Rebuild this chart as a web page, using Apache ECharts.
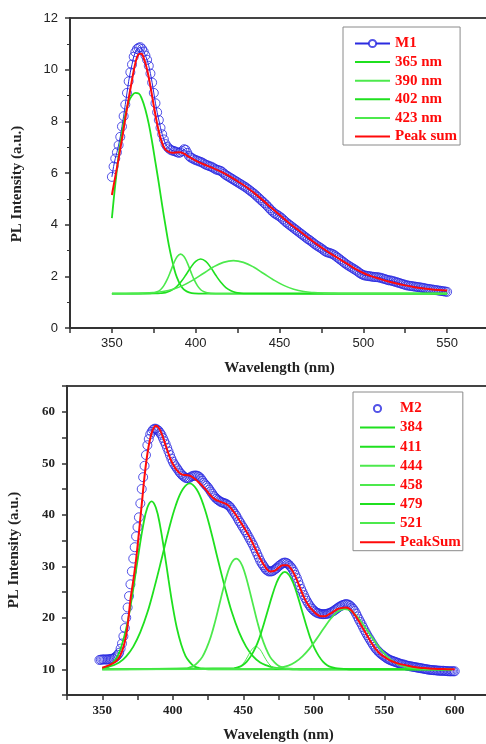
<!DOCTYPE html>
<html>
<head>
<meta charset="utf-8">
<script src="https://cdn.jsdelivr.net/npm/echarts@6/dist/echarts.min.js"></script>
<style>
  html, body { margin: 0; background: #fff; }
  #main { width: 486px; height: 744px; }
</style>
</head>
<body>
<div id="main"></div>
<script>
// ===== 上圖 M1 =====
// 量測資料 (350 ~ 550 nm, 每 1 nm 一點)
const m1Start = 350;
const m1Step = 1;
const m1Values = [
  5.85, 6.25, 6.56, 6.8, 7.08, 7.4, 7.8, 8.2, 8.65, 9.1,
  9.55, 9.9, 10.2, 10.5, 10.68, 10.8, 10.85, 10.87, 10.8, 10.7,
  10.55, 10.38, 10.15, 9.85, 9.5, 9.1, 8.7, 8.35, 8.05, 7.75,
  7.5, 7.3, 7.12, 7.02, 6.95, 6.9, 6.87, 6.85, 6.83, 6.8,
  6.78, 6.8, 6.85, 6.92, 6.9, 6.78, 6.66, 6.6, 6.57, 6.53,
  6.5, 6.48, 6.45, 6.43, 6.4, 6.36, 6.32, 6.3, 6.27, 6.25,
  6.22, 6.18, 6.14, 6.12, 6.1, 6.08, 6.03, 5.97, 5.92, 5.88,
  5.84, 5.8, 5.76, 5.72, 5.68, 5.64, 5.6, 5.56, 5.52, 5.48,
  5.44, 5.39, 5.34, 5.29, 5.24, 5.19, 5.13, 5.07, 5.01, 4.95,
  4.89, 4.83, 4.77, 4.7, 4.63, 4.56, 4.5, 4.44, 4.4, 4.36,
  4.32, 4.27, 4.21, 4.15, 4.09, 4.04, 3.99, 3.94, 3.89, 3.84,
  3.79, 3.74, 3.69, 3.64, 3.59, 3.54, 3.49, 3.44, 3.4, 3.35,
  3.3, 3.25, 3.2, 3.16, 3.12, 3.08, 3.03, 2.98, 2.94, 2.92,
  2.9, 2.88, 2.85, 2.81, 2.76, 2.71, 2.66, 2.61, 2.56, 2.51,
  2.46, 2.42, 2.38, 2.34, 2.3, 2.26, 2.22, 2.17, 2.12, 2.08,
  2.05, 2.03, 2.02, 2.01, 2.0, 1.99, 1.98, 1.97, 1.97, 1.96,
  1.95, 1.93, 1.91, 1.89, 1.87, 1.85, 1.84, 1.83, 1.81, 1.79,
  1.77, 1.75, 1.73, 1.71, 1.69, 1.67, 1.65, 1.64, 1.63, 1.62,
  1.61, 1.6, 1.59, 1.58, 1.57, 1.56, 1.55, 1.53, 1.52, 1.51,
  1.5, 1.49, 1.48, 1.47, 1.46, 1.45, 1.44, 1.43, 1.42, 1.41,
  1.4,
];

// 擬合峰 [wavelength, intensity]
const m1Peak365 = [[350, 4.25], [352, 5.55], [354, 6.65], [356, 7.55], [358, 8.25], [360, 8.75], [362, 9.0], [364, 9.1], [366, 9.08], [368, 8.85], [370, 8.45], [372, 7.9], [374, 7.2], [376, 6.4], [378, 5.6], [380, 4.75], [382, 3.95], [384, 3.2], [386, 2.6], [388, 2.1], [390, 1.78], [392, 1.56], [394, 1.44], [396, 1.38], [399, 1.34], [405, 1.33], [550, 1.33]];
const m1Peak390 = [[350, 1.33], [373, 1.34], [375, 1.36], [377, 1.4], [379, 1.48], [381, 1.64], [383, 1.88], [385, 2.19], [387, 2.52], [389, 2.77], [391, 2.86], [393, 2.77], [395, 2.52], [397, 2.19], [399, 1.88], [401, 1.64], [403, 1.48], [405, 1.4], [407, 1.36], [409, 1.34], [415, 1.33], [550, 1.33]];
const m1Peak402 = [[350, 1.33], [376, 1.335], [379, 1.345], [382, 1.37], [385, 1.44], [388, 1.56], [391, 1.77], [394, 2.04], [397, 2.34], [400, 2.58], [403, 2.67], [406, 2.58], [409, 2.34], [412, 2.04], [415, 1.77], [418, 1.56], [421, 1.44], [424, 1.37], [427, 1.345], [430, 1.335], [550, 1.33]];
const m1Peak423 = [[350, 1.33], [362.5, 1.34], [368.5, 1.35], [374.5, 1.37], [380.5, 1.41], [386.5, 1.5], [392.5, 1.65], [398.5, 1.86], [404.5, 2.11], [410.5, 2.36], [416.5, 2.54], [422.5, 2.61], [428.5, 2.54], [434.5, 2.36], [440.5, 2.11], [446.5, 1.86], [452.5, 1.65], [458.5, 1.5], [464.5, 1.41], [470.5, 1.37], [476.5, 1.35], [482.5, 1.34], [490, 1.33], [550, 1.33]];
const m1PeakSum = [[350, 5.15], [353, 6.2], [356, 7.3], [359, 8.5], [362, 9.6], [364, 10.25], [366, 10.6], [367.5, 10.62], [369, 10.45], [371, 10.0], [373, 9.35], [375, 8.6], [377, 7.9], [379, 7.35], [381, 7.0], [383, 6.85], [386, 6.78], [390, 6.8], [393, 6.75], [396, 6.62], [400, 6.48], [405, 6.33], [410, 6.2], [415, 6.05], [420, 5.88], [425, 5.68], [430, 5.47], [435, 5.22], [440, 4.95], [445, 4.66], [450, 4.38], [455, 4.1], [460, 3.85], [465, 3.6], [470, 3.35], [475, 3.12], [480, 2.9], [485, 2.7], [490, 2.5], [495, 2.3], [500, 2.13], [505, 2.0], [510, 1.9], [515, 1.8], [520, 1.72], [525, 1.65], [530, 1.59], [535, 1.54], [540, 1.5], [545, 1.47], [550, 1.45]];

// ===== 下圖 M2 =====
// 量測資料 (348 ~ 600 nm, 每 1 nm 一點)
const m2Start = 348;
const m2Step = 1;
const m2Values = [
  11.8, 11.85, 11.9, 11.9, 11.9, 11.9, 11.9, 11.95, 12.0, 12.05,
  12.1, 12.3, 12.5, 12.8, 13.2, 14.0, 15.0, 16.4, 18.0, 20.0,
  22.0, 24.2, 26.5, 29.0, 31.5, 33.7, 35.8, 37.6, 39.5, 42.2,
  45.0, 47.3, 49.5, 51.6, 53.5, 54.7, 55.6, 56.1, 56.5, 56.7,
  56.7, 56.5, 56.3, 55.9, 55.5, 54.9, 54.3, 53.7, 53.0, 52.3,
  51.6, 50.9, 50.3, 49.8, 49.4, 49.0, 48.6, 48.2, 47.9, 47.6,
  47.4, 47.2, 47.1, 47.1, 47.2, 47.4, 47.5, 47.6, 47.6, 47.6,
  47.5, 47.3, 47.0, 46.6, 46.2, 45.9, 45.6, 45.3, 44.9, 44.5,
  44.1, 43.7, 43.4, 43.1, 42.9, 42.7, 42.5, 42.4, 42.3, 42.2,
  42.1, 41.9, 41.7, 41.4, 41.0, 40.6, 40.2, 39.8, 39.3, 38.8,
  38.4, 37.9, 37.5, 37.0, 36.6, 36.1, 35.6, 35.1, 34.6, 34.1,
  33.5, 32.9, 32.3, 31.7, 31.1, 30.6, 30.2, 29.8, 29.4, 29.2,
  29.0, 29.0, 29.0, 29.1, 29.3, 29.5, 29.7, 30.0, 30.2, 30.4,
  30.6, 30.7, 30.7, 30.6, 30.4, 30.1, 29.8, 29.4, 28.9, 28.3,
  27.7, 27.0, 26.3, 25.6, 25.0, 24.4, 23.8, 23.3, 22.8, 22.4,
  22.0, 21.7, 21.4, 21.2, 21.0, 20.9, 20.8, 20.75, 20.7, 20.7,
  20.7, 20.75, 20.8, 20.9, 21.0, 21.15, 21.3, 21.5, 21.7, 21.9,
  22.1, 22.25, 22.4, 22.5, 22.6, 22.65, 22.6, 22.5, 22.3, 22.0,
  21.7, 21.3, 20.8, 20.25, 19.7, 19.2, 18.7, 18.15, 17.6, 17.1,
  16.6, 16.15, 15.7, 15.25, 14.8, 14.4, 14.0, 13.7, 13.4, 13.15,
  12.9, 12.7, 12.5, 12.3, 12.1, 11.95, 11.8, 11.7, 11.6, 11.5,
  11.4, 11.3, 11.2, 11.1, 11.0, 10.95, 10.9, 10.8, 10.7, 10.65,
  10.6, 10.55, 10.5, 10.45, 10.4, 10.35, 10.3, 10.25, 10.2, 10.15,
  10.1, 10.05, 10.0, 9.95, 9.9, 9.87, 9.85, 9.82, 9.8, 9.77,
  9.75, 9.72, 9.7, 9.7, 9.7, 9.67, 9.65, 9.62, 9.6, 9.6,
  9.6, 9.6, 9.6,
];

const m2Peak384 = [[350, 10.1], [352, 10.3], [355, 10.6], [358, 11.4], [361, 12.6], [364, 14.8], [367, 17.9], [370, 22.2], [373, 27.4], [376, 32.9], [379, 37.9], [382, 41.4], [385, 42.6], [388, 41.4], [391, 37.9], [394, 32.9], [397, 27.4], [400, 22.2], [403, 17.9], [406, 14.8], [409, 12.6], [412, 11.4], [415, 10.6], [418, 10.3], [421, 10.1], [430, 10.0], [598, 10.0]];
const m2Peak411 = [[350, 10.2], [352, 10.3], [357, 10.7], [362, 11.3], [367, 12.5], [372, 14.4], [377, 17.2], [382, 21.0], [387, 25.9], [392, 31.3], [397, 36.9], [402, 41.7], [407, 44.9], [412, 46.1], [417, 44.9], [422, 41.7], [427, 36.9], [432, 31.3], [437, 25.9], [442, 21.0], [447, 17.2], [452, 14.4], [457, 12.5], [462, 11.3], [467, 10.7], [472, 10.3], [477, 10.15], [485, 10.0], [598, 10.0]];
const m2Peak444 = [[350, 10.0], [409, 10.15], [412, 10.35], [415, 10.7], [418, 11.4], [421, 12.4], [424, 14.1], [427, 16.3], [430, 19.2], [433, 22.5], [436, 25.8], [439, 28.8], [442, 30.8], [445, 31.5], [448, 30.8], [451, 28.8], [454, 25.8], [457, 22.5], [460, 19.2], [463, 16.3], [466, 14.1], [469, 12.4], [472, 11.4], [475, 10.7], [478, 10.35], [481, 10.15], [490, 10.0], [598, 10.0]];
const m2Peak458 = [[350, 10.0], [443, 10.06], [445, 10.17], [447, 10.4], [449, 10.8], [451, 11.5], [453, 12.4], [455, 13.4], [457, 14.1], [459, 14.4], [461, 14.1], [463, 13.4], [465, 12.4], [467, 11.5], [469, 10.8], [471, 10.4], [473, 10.17], [475, 10.06], [480, 10.0], [598, 10.0]];
const m2Peak479 = [[350, 10.0], [443.5, 10.2], [446.5, 10.4], [449.5, 10.8], [452.5, 11.5], [455.5, 12.6], [458.5, 14.1], [461.5, 16.1], [464.5, 18.7], [467.5, 21.5], [470.5, 24.3], [473.5, 26.7], [476.5, 28.3], [479.5, 28.9], [482.5, 28.3], [485.5, 26.7], [488.5, 24.3], [491.5, 21.5], [494.5, 18.7], [497.5, 16.1], [500.5, 14.1], [503.5, 12.6], [506.5, 11.5], [509.5, 10.8], [512.5, 10.4], [515.5, 10.2], [525, 10.0], [598, 10.0]];
const m2Peak521 = [[350, 10.0], [467, 10.06], [472, 10.15], [477, 10.35], [482, 10.7], [487, 11.4], [492, 12.5], [497, 14.0], [502, 15.9], [507, 17.9], [512, 19.8], [517, 21.2], [522, 21.7], [527, 21.2], [532, 19.8], [537, 17.9], [542, 15.9], [547, 14.0], [552, 12.5], [557, 11.4], [562, 10.7], [567, 10.35], [572, 10.15], [577, 10.06], [585, 10.0], [598, 10.0]];
const m2PeakSum = [[350, 10.3], [355, 10.8], [360, 11.6], [363, 12.8], [366, 15.3], [368, 18.5], [370, 23.5], [372, 27.2], [374, 31.3], [376, 36.5], [378, 42], [380, 47.5], [382, 51.8], [384, 54.8], [386, 56.6], [388, 57.3], [390, 56.9], [392, 55.8], [394, 54.3], [396, 52.6], [398, 51.1], [400, 49.9], [403, 48.6], [406, 47.9], [409, 47.7], [412, 47.6], [415, 47.1], [418, 46.4], [421, 45.6], [424, 44.7], [427, 43.7], [430, 43.0], [433, 42.6], [436, 42.3], [439, 41.9], [442, 41.0], [445, 39.9], [448, 38.6], [451, 37.3], [454, 35.9], [457, 34.3], [460, 32.6], [463, 31.0], [466, 29.7], [469, 29.0], [472, 29.1], [475, 29.7], [478, 30.2], [481, 30.2], [484, 29.5], [487, 28.0], [490, 26.0], [493, 24.0], [496, 22.5], [499, 21.5], [502, 20.7], [505, 20.3], [508, 20.3], [511, 20.7], [514, 21.2], [517, 21.7], [520, 21.9], [523, 22.0], [526, 21.6], [529, 20.6], [532, 19.3], [535, 17.9], [538, 16.5], [541, 15.1], [544, 13.9], [547, 13.0], [550, 12.4], [555, 11.6], [560, 11.1], [565, 10.8], [570, 10.5], [575, 10.3], [580, 10.2], [585, 10.1], [590, 10.05], [595, 10.0], [600, 10.0]];

// 圖例文字
const m1Legend = ["M1", "365 nm", "390 nm", "402 nm", "423 nm", "Peak sum"];
const m2Legend = ["M2", "384", "411", "444", "458", "479", "521", "PeakSum"];

const serif = "Liberation Serif";
const sans = "Liberation Sans";
const axisColor = "#333";
const green = "#1fe01f";
const greenLight = "#4ce94c";
const red = "#ff0a0a";
const blueEdge = "rgba(40,40,225,0.8)";

const toPairs = (start, step, values) =>
  values.map((v, i) => [start + i * step, v]);

// 軸設定
function xAxisOf(gridIndex, min, max, labelStyle) {
  return {
    gridIndex,
    type: "value",
    min,
    max,
    interval: 25,
    name: "Wavelength (nm)",
    nameLocation: "middle",
    nameGap: 33,
    nameTextStyle: { fontFamily: serif, fontWeight: "bold", fontSize: 15, color: "#222" },
    axisLine: { onZero: false, lineStyle: { color: axisColor, width: 2 } },
    axisTick: { inside: false, length: 5, lineStyle: { color: axisColor, width: 1.5 } },
    axisLabel: Object.assign(
      { margin: 9, color: "#222", formatter: (v) => (v % 50 === 0 ? String(v) : "") },
      labelStyle
    ),
    splitLine: { show: false },
  };
}

function yAxisOf(gridIndex, min, max, interval, labelStep, labelStyle, shift) {
  return {
    gridIndex,
    type: "value",
    min,
    max,
    interval,
    name: "PL Intensity (a.u.)",
    nameLocation: "middle",
    nameGap: 45,
    nameTextStyle: {
      fontFamily: serif,
      fontWeight: "bold",
      fontSize: 15,
      color: "#222",
      padding: [0, shift, 0, 0],
    },
    axisLine: { onZero: false, lineStyle: { color: axisColor, width: 2 } },
    axisTick: { inside: false, length: 5, lineStyle: { color: axisColor, width: 1.5 } },
    minorTick: { show: labelStep === interval, splitNumber: 2, length: 3, lineStyle: { color: axisColor } },
    axisLabel: Object.assign(
      { margin: 12, color: "#222", formatter: (v) => (v % labelStep === 0 ? String(v) : "") },
      labelStyle
    ),
    splitLine: { show: false },
  };
}

// 擬合曲線
function fitLine(name, data, idx, color, width) {
  return {
    name,
    type: "line",
    xAxisIndex: idx,
    yAxisIndex: idx,
    data,
    symbol: "none",
    smooth: 0.4,
    lineStyle: { color, width },
    itemStyle: { color },
    z: 3,
  };
}

// 量測點 (空心圓)
function dataLine(name, data, idx, withLine) {
  return {
    name,
    type: "line",
    xAxisIndex: idx,
    yAxisIndex: idx,
    data,
    symbol: "circle",
    symbolSize: 9,
    showSymbol: true,
    showAllSymbol: true,
    lineStyle: withLine ? { color: "#2b2be0", width: 1 } : { width: 0, opacity: 0 },
    itemStyle: { color: "rgba(255,255,255,0)", borderColor: blueEdge, borderWidth: 1 },
    z: 2,
  };
}

// 圖例: 第一項為量測點 (白底圓), 其餘只畫線
function legendOf(names, left, top, padding, gap) {
  return {
    data: names.map((n, i) =>
      i === 0 ? { name: n, itemStyle: { color: "#fff" } } : { name: n, itemStyle: { opacity: 0 } }
    ),
    orient: "vertical",
    left,
    top,
    padding,
    itemGap: gap,
    itemWidth: 35,
    itemHeight: 9,
    selectedMode: false,
    backgroundColor: "#fff",
    borderColor: "#8a8a8a",
    borderWidth: 1,
    textStyle: { color: red, fontFamily: serif, fontWeight: "bold", fontSize: 15, lineHeight: 14 },
  };
}

const topLabel = { fontFamily: sans, fontSize: 13 };
const bottomLabel = { fontFamily: serif, fontWeight: "bold", fontSize: 13 };

const option = {
  animation: false,
  backgroundColor: "#fff",
  grid: [
    { left: 70, top: 18, width: 419, height: 310, outerBoundsMode: "none", show: true, borderColor: "#444", borderWidth: 2 },
    { left: 67, top: 386, width: 423, height: 309, outerBoundsMode: "none", show: true, borderColor: "#444", borderWidth: 2 },
  ],
  xAxis: [xAxisOf(0, 325, 575, topLabel), xAxisOf(1, 325, 625, bottomLabel)],
  yAxis: [
    yAxisOf(0, 0, 12, 2, 2, topLabel, 22),
    yAxisOf(1, 5, 65, 5, 10, bottomLabel, 19),
  ],
  legend: [
    legendOf(m1Legend, 343, 27, [9, 3, 1, 11], 3.6),
    legendOf(m2Legend, 353, 392, [9, 2, 1, 6], 4.1),
  ],
  series: [
    dataLine("M1", toPairs(m1Start, m1Step, m1Values), 0, true),
    fitLine("365 nm", m1Peak365, 0, green, 1.8),
    fitLine("390 nm", m1Peak390, 0, greenLight, 1.6),
    fitLine("402 nm", m1Peak402, 0, green, 1.6),
    fitLine("423 nm", m1Peak423, 0, greenLight, 1.6),
    fitLine("Peak sum", m1PeakSum, 0, red, 2),

    dataLine("M2", toPairs(m2Start, m2Step, m2Values), 1, false),
    fitLine("384", m2Peak384, 1, green, 1.8),
    fitLine("411", m2Peak411, 1, green, 1.8),
    fitLine("444", m2Peak444, 1, greenLight, 1.8),
    fitLine("458", m2Peak458, 1, greenLight, 1),
    fitLine("479", m2Peak479, 1, green, 1.8),
    fitLine("521", m2Peak521, 1, greenLight, 1.8),
    fitLine("PeakSum", m2PeakSum, 1, red, 2),
  ],
};

const chart = echarts.init(document.getElementById("main"), null, { renderer: "canvas" });
chart.setOption(option);
</script>
</body>
</html>
